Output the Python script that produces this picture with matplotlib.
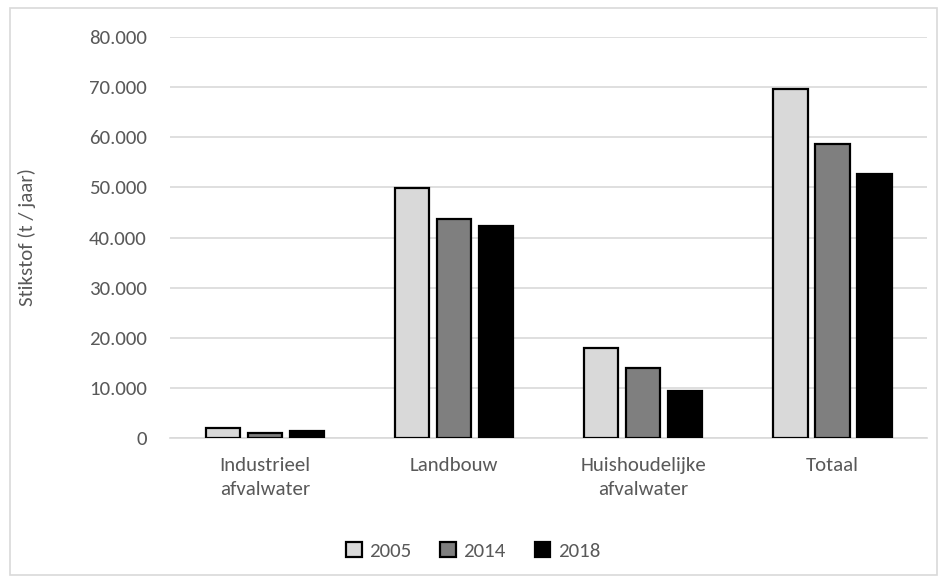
import matplotlib
matplotlib.use("Agg")
import matplotlib.pyplot as plt
from matplotlib.patches import Rectangle
from matplotlib.ticker import FuncFormatter
import numpy as np

categories = ["Industrieel\nafvalwater", "Landbouw", "Huishoudelijke\nafvalwater", "Totaal"]
years = ["2005", "2014", "2018"]
values_2005 = [1900, 49800, 18000, 69700]
values_2014 = [900, 43700, 13900, 58600]
values_2018 = [1400, 42300, 9300, 52700]
series = [values_2005, values_2014, values_2018]
colors = ["#d9d9d9", "#7f7f7f", "#000000"]

text_color = "#595959"
plt.rcParams["font.family"] = ["Carlito", "Lato", "DejaVu Sans"]
fs = 15

fig = plt.figure(figsize=(9.46, 5.84), dpi=100)
ax = fig.add_axes([0.18, 0.25, 0.80, 0.6866])

x = np.arange(len(categories))
step = 0.222
width = 0.18
for i, (vals, col) in enumerate(zip(series, colors)):
    ax.bar(x + (i - 1) * step, vals, width=width, color=col,
           edgecolor="black", linewidth=1.6, label=years[i], zorder=3)

ax.set_xlim(-0.5, 3.5)
ax.set_ylim(0, 80000)
ax.set_yticks(np.arange(0, 80001, 10000))
ax.yaxis.set_major_formatter(FuncFormatter(lambda v, p: f"{int(v):,}".replace(",", ".")))
ax.set_xticks(x)
ax.set_xticklabels(categories, linespacing=1.5)
ax.grid(axis="y", color="#d9d9d9", linewidth=1.2, zorder=0)
for s in ["top", "right", "left"]:
    ax.spines[s].set_visible(False)
ax.spines["bottom"].set_color("#d9d9d9")
ax.spines["bottom"].set_linewidth(1.2)
ax.tick_params(axis="both", length=0, colors=text_color, labelsize=fs)
ax.tick_params(axis="y", pad=17)
ax.tick_params(axis="x", pad=14)
ax.set_ylabel("Stikstof (t / jaar)", color=text_color, fontsize=fs)
ax.yaxis.set_label_coords(-0.178, 0.5)

leg = fig.legend(loc="center", bbox_to_anchor=(0.5, 0.057), ncol=3, frameon=False,
                 fontsize=fs, handlelength=0.75, handleheight=0.75, handletextpad=0.35,
                 columnspacing=1.4)
for t in leg.get_texts():
    t.set_color(text_color)

fig.patches.append(Rectangle((10 / 946, 1 - 575 / 584), 927 / 946, 567 / 584,
                             transform=fig.transFigure, fill=False,
                             edgecolor="#d9d9d9", linewidth=1.2))

fig.savefig("out.png", dpi=100, facecolor="white")
